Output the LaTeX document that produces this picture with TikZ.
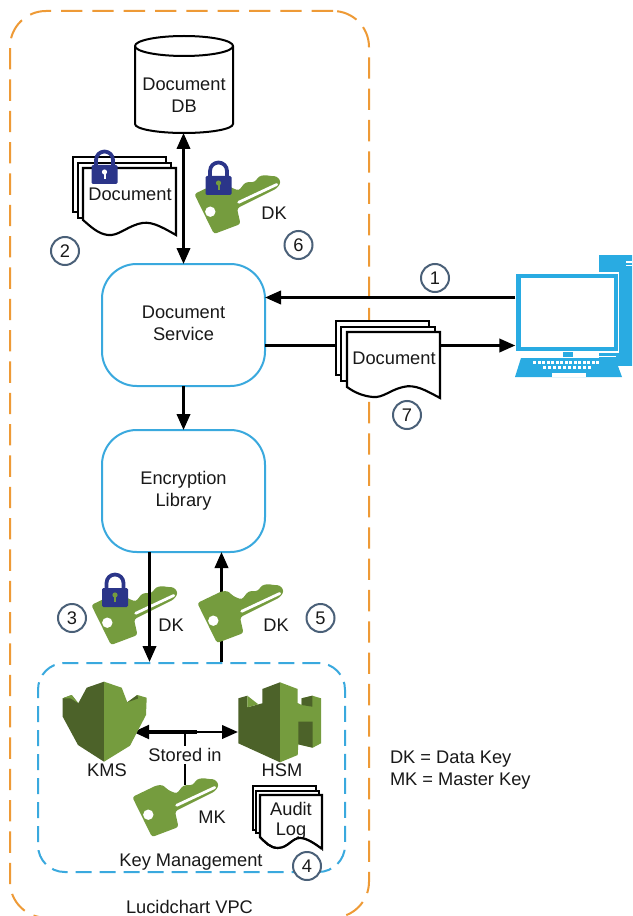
\documentclass[tikz,border=0pt]{standalone}
\usepackage{fontspec}
\setmainfont{Liberation Sans}
\usetikzlibrary{arrows.meta}
\definecolor{orangeV}{HTML}{EE9A36}
\definecolor{blueL}{HTML}{3AA9DE}
\definecolor{blueC}{HTML}{29ABE2}
\definecolor{grn}{HTML}{759C3E}
\definecolor{grnD}{HTML}{4C6229}
\definecolor{navy}{HTML}{2B3589}
\definecolor{slateC}{HTML}{4A6078}
\tikzset{
  txt/.style={font=\fontsize{13.7}{16.5}\selectfont,text=black!90,align=center,inner sep=0pt,outer sep=0pt},
  svc/.style={draw=blueL,line width=1.5pt,rounded corners=26pt,fill=white,minimum width=122.25pt,minimum height=91.5pt,inner sep=0pt,outer sep=0pt},
  conn/.style={line width=2.1pt,-{Triangle[length=12pt,width=10pt]}},
  bi/.style={line width=2.1pt,{Triangle[length=12pt,width=10pt]}-{Triangle[length=12pt,width=10pt]}},
  num/.style={circle,draw=slateC,line width=1.5pt,minimum size=21pt,inner sep=0pt,fill=white,font=\fontsize{13.7}{16}\selectfont,text=black!90},
  sheet/.style={draw=black,fill=white,line width=1.6pt,line join=miter},
  anchorbox/.style={inner sep=0pt,minimum size=1pt,outer sep=0pt},
  pics/keyg/.style={code={
    \fill[grn,rounded corners=2pt] (-0.7,0) -- (23.7,-11.7) -- (30,-12) -- (35,-7) -- (43.7,-3.3) -- (50.3,-11.7) -- (60,-12)
      -- (63.7,-17.7) -- (70.3,-19) -- (75,-18) -- (82,-17.7) -- (86,-12) -- (82,-5.7) -- (42,14.3) -- (45.5,30) -- (19,40) -- cycle;
    \fill[white] (15.3,17.7) circle (5.2);
    \draw[white,line width=2.1pt,line cap=round] (43.7,8.3) -- (81.7,-9.5);
  }},
  pics/lockg/.style={code={
    \draw[navy,line width=2.8pt] (-8.5,0) -- (-8.5,-6) arc[start angle=180,end angle=360,radius=8.5] -- (8.5,0);
    \fill[navy,rounded corners=1pt] (-13,-1) rectangle (13,18);
    \fill[#1] (0,6) circle (2.6);
    \fill[#1] (-1,6) rectangle (1,13);
  }}
}
\begin{document}
\begin{tikzpicture}[x=0.75pt,y=-0.75pt]
\useasboundingbox (0,0) rectangle (632,916);
\clip (0,0) rectangle (632,916);
\fill[white] (0,0) rectangle (632,916);
% containers
\node[draw=orangeV,line width=1.5pt,dash pattern=on 16pt off 7.5pt,rounded corners=27pt,minimum width=269.25pt,minimum height=680pt,inner sep=0pt,outer sep=0pt,anchor=north west] (vpc) at (10,11) {};
\node[draw=blueL,line width=1.5pt,dash pattern=on 12pt off 6pt,rounded corners=20pt,minimum width=230.25pt,minimum height=156.75pt,inner sep=0pt,outer sep=0pt,anchor=north west] (km) at (38,663) {};
% main nodes
\node[anchorbox,minimum width=73.5pt,minimum height=72.75pt] (db) at (183.5,84.5) {};
\draw[black,fill=white,line width=1.5pt] (135,46) -- (135,124) arc[x radius=49,y radius=9,start angle=180,end angle=0] -- (233,46) arc[x radius=49,y radius=10,start angle=0,end angle=-180] -- cycle;
\draw[black,line width=1.5pt] (135,46) arc[x radius=49,y radius=10,start angle=180,end angle=0];
\node[txt] (dbt) at (184,95) {Document\\DB};
\node[svc] (ds) at (183.5,325) {};
\node[txt] (dst) at (183.5,323) {Document\\Service};
\node[svc] (el) at (183.5,491) {};
\node[txt] (elt) at (183.5,490.5) {Encryption\\Library};
% anchors
\node[anchorbox] (compA) at (516,297.5) {};
\node[anchorbox] (compB) at (516,345.5) {};
\coordinate (dsR1) at (265,297.5);
\coordinate (dsR2) at (265,345.5);
\coordinate (kmDown) at (149.5,662);
\coordinate (kmUp) at (221.5,662);
\coordinate (elD) at (149.5,552);
\coordinate (elU) at (221.5,552);
\coordinate (kmsE) at (133,732);
\coordinate (hsmW) at (238,732);
\coordinate (midA) at (197,732);
\coordinate (midB) at (185,732);
\coordinate (mkTop) at (185,785);
% connectors
\draw[bi] (db.south) -- (ds.north -| db.south);
\draw[conn] (ds.south) -- (el.north);
\draw[conn] (compA) -- (dsR1);
\draw[conn] (dsR2) -- (compB);
\draw[conn] (kmUp) -- (elU);
\draw[line width=2.8pt,{Triangle[length=12pt,width=10pt]}-] (kmsE) -- (midA);
\draw[conn] (midA) -- (hsmW);
\draw[line width=1.3pt] (midB) -- (mkTop);
\node[txt,fill=white,inner ysep=2pt] (stored) at (185,755) {Stored in};
% keys
\path (198,603) pic {keyg};
\path (92,605) pic {keyg};
\draw[conn] (elD) -- (kmDown);
\path (195,194) pic {keyg};
\path (133,797) pic {keyg};
% locks
\path (115,589) pic {lockg=grn};
\path (218.5,177) pic {lockg=grn};
% document 2
\draw[sheet] (73,157) -- (166,157) -- (166,212) -- (73,212) -- cycle;
\draw[sheet] (78,163) -- (171,163) -- (171,218) -- (78,218) -- cycle;
\draw[sheet] (83,168) -- (176,168) -- (176,235) .. controls (160,226) and (150,220) .. (138,224) .. controls (125,228) and (118,236) .. (108,235) .. controls (98,234) and (90,226) .. (83,220) -- cycle;
\path (104.5,166) pic {lockg=white};
\node[txt] (d2t) at (130,194) {Document};
% document 7
\draw[sheet] (336,321) -- (429,321) -- (429,375) -- (336,375) -- cycle;
\draw[sheet] (341,327) -- (435,327) -- (435,381) -- (341,381) -- cycle;
\draw[sheet] (347,332) -- (440,332) -- (440,398) .. controls (425,390) and (415,384) .. (403,387) .. controls (390,390) and (383,398) .. (373,397) .. controls (362,396) and (354,392) .. (347,387) -- cycle;
\node[txt] (d7t) at (394,358) {Document};
% audit log
\draw[sheet,fill=white] (253,786) -- (316,786) -- (316,830) -- (253,830) -- cycle;
\draw[sheet] (256,791) -- (319,791) -- (319,833) -- (256,833) -- cycle;
\draw[sheet] (260,795) -- (322,795) -- (322,849) .. controls (314,843) and (306,838) .. (300,838) .. controls (292,838) and (288,848) .. (278,848) .. controls (270,848) and (265,842) .. (260,837) -- cycle;
\node[txt] (alt1) at (291,809) {Audit};
\node[txt] (alt2) at (291,831) {Log};
\fill[white] (322,851) -- (322,849) .. controls (314,843) and (306,838) .. (300,838) .. controls (292,838) and (288,848) .. (278,848) -- (278,851) -- cycle;
\draw[black,line width=1.6pt] (322,849) .. controls (314,843) and (306,838) .. (300,838) .. controls (292,838) and (288,848) .. (278,848) .. controls (270,848) and (265,842) .. (260,837);
% KMS
\fill[grnD] (104,681.7) -- (86.7,687.7) -- (78.3,703.3) -- (71.7,695) -- (62.7,698.3) -- (62.7,716.7) -- (78,745) -- (104,761.7) -- cycle;
\fill[grn] (104,681.7) -- (121.7,687.7) -- (127.3,702.3) -- (137.3,695) -- (146.7,697.7) -- (146,715) -- (130,745.7) -- (104,761.7) -- cycle;
\fill[grn] (62.7,698.3) -- (71.7,695) -- (78.3,703.3) -- (71,698.5) -- cycle;
\fill[grnD] (137.3,695) -- (127.3,702.3) -- (138,698.5) -- cycle;
\node[anchorbox] (kms) at (104,722) {};
% HSM
\fill[grnD] (280,682.3) -- (262.3,689) -- (262.3,703.3) -- (247.3,707.3) -- (247.3,695.7) -- (238.3,698.3) -- (238.3,743.3) -- (280,762.3) -- cycle;
\fill[grn] (247.3,695.7) -- (258.3,704.3) -- (247.3,707.3) -- cycle;
\fill[grn] (280,682.3) -- (297.7,689) -- (297.7,703) -- (301.7,705) -- (301.7,698.3) -- (312.3,695.7) -- (321,698.3) -- (321,743.3) -- (312.7,747.7) -- (298.3,744.3) -- (297.7,755) -- (280,762.3) -- cycle;
\fill[grnD] (301.7,698.3) -- (312.3,695.7) -- (312.3,706.7) -- (301.7,705) -- cycle;
\fill[grnD] (298.3,721.7) -- (312.7,721.7) -- (312.7,747.7) -- (298.3,744.3) -- cycle;
\node[anchorbox] (hsm) at (280,722) {};
% computer
\fill[blueC] (599,255) rectangle (640,366);
\fill[white] (596,272) rectangle (619,353);
\fill[blueC] (516,274) rectangle (618,351);
\fill[white] (521,278) rectangle (614,347);
\fill[white] (562,351) rectangle (574,358);
\fill[blueC] (563,352) rectangle (573,357);
\fill[white] (599,356) rectangle (616,357);
\fill[blueC] (521,358) -- (615,358) -- (622,377) -- (515,377) -- cycle;
\fill[white] (552,373) rectangle (586,377);
\foreach \k in {533,537.5,542,546.5,551,555.5,560,564.5,569,573.5,578,582.5,587,591.5,596}
  \fill[white] (\k,361) rectangle ++(3,3);
\foreach \k in {543,548,553,558,563,568,573,578,583,588}
  \fill[white] (\k,366) rectangle ++(3,3);
\fill[white] (626,261) rectangle (632,262.5);
\fill[white] (626,264.5) rectangle (632,266);
% labels
\node[txt] (dk1) at (274,213) {DK};
\node[txt] (dk2) at (171,625) {DK};
\node[txt] (dk3) at (276,625) {DK};
\node[txt] (mk) at (212,817) {MK};
\node[txt] (kmsl) at (107,770) {KMS};
\node[txt] (hsml) at (282,770) {HSM};
\node[txt] (kml) at (191,862.5) {Key Management};
\node[txt] (vpcl) at (189.5,906.5) {Lucidchart VPC};
\node[txt,anchor=west] (leg1) at (390,759.5) {DK = Data Key};
\node[txt,anchor=west] (leg2) at (390,781.5) {MK = Master Key};
% numbers
\node[num] (n1) at (435,278) {1};
\node[num] (n2) at (65,251) {2};
\node[num] (n3) at (72,618) {3};
\node[num] (n4) at (307,866) {4};
\node[num] (n5) at (320.5,618) {5};
\node[num] (n6) at (298.5,245) {6};
\node[num] (n7) at (407,415) {7};
\end{tikzpicture}
\end{document}
